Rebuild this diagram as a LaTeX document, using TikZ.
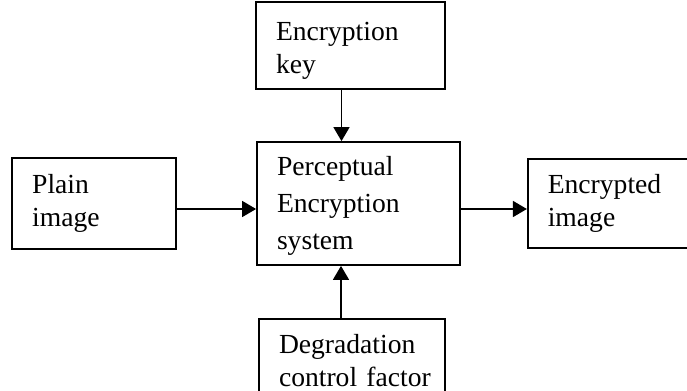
\documentclass[tikz,border=0pt]{standalone}
\usepackage{fontspec}
\setmainfont{Liberation Serif}
\usetikzlibrary{arrows.meta, positioning, calc}

\begin{document}
\begin{tikzpicture}[
		>={Triangle[length=7pt,width=8pt]},
		% Estilos de los bloques
		block/.style={draw, rectangle, line width=0.9pt, align=left, inner xsep=10pt,
			font=\fontsize{13.8}{16.5}\selectfont},
		line/.style={draw, line width=0.8pt, ->}
		]
		
		% Marco fijo de la figura
		\useasboundingbox (0,0) rectangle (343.5pt,195.5pt);
		\clip (0,0) rectangle (343.5pt,195.5pt);
		
		% --- NODOS (BLOQUES) ---
		
		% Bloque central
		\node [block, text width=81.5pt, minimum height=61.5pt,
			font=\fontsize{13.8}{18.5}\selectfont] (system) at (179.25pt,93.75pt)
			{\rule{0pt}{12pt}Perceptual\\Encryption\\system};
		
		% Bloques alrededor
		\node [block, text width=74.5pt, minimum height=43.5pt,
			above=25.5pt of system.north west, anchor=south west, xshift=-0.5pt] (key)
			{\rule{0pt}{14.5pt}Encryption\\key};
		\node [block, text width=62pt, minimum height=45.5pt, left=39.5pt of system] (plain)
			{Plain\\image};
		\node [block, text width=61.5pt, minimum height=44.5pt, right=33pt of system] (encrypted)
			{Encrypted\\image};
		\node [block, text width=73pt, minimum height=42pt,
			below=26pt of system.south west, anchor=north west, xshift=1pt] (factor)
			{Degradation\\\mbox{control factor}};
		
		% --- LÍNEAS ---
		\coordinate (keyout) at ($(key.south) + (-4.5pt,0)$);
		\draw [line] (keyout) -- (keyout |- system.north);
		
		\coordinate (factorout) at ($(factor.north) + (-5.5pt,0)$);
		\draw [line] (factorout) -- (factorout |- system.south);
		
		\coordinate (plainout) at ($(plain.east) + (0,-2.75pt)$);
		\draw [line] (plainout) -- (plainout -| system.west);
		
		\coordinate (systemout) at ($(system.east) + (0,-2.75pt)$);
		\draw [line] (systemout) -- (systemout -| encrypted.west);
		
	\end{tikzpicture}
\end{document}
